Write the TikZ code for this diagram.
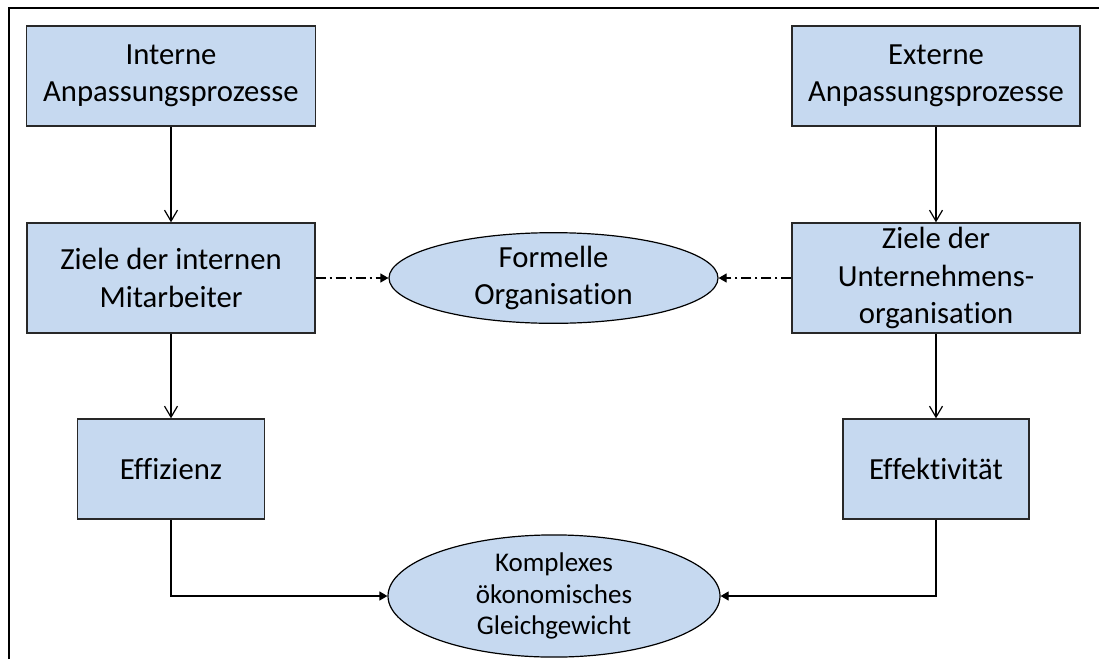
\documentclass[tikz,border=0pt]{standalone}
\usepackage{fontspec}
\setmainfont{Carlito}[Ligatures={NoCommon,NoDiscretionary,NoContextual}]
\usetikzlibrary{arrows.meta,shapes.geometric}
\definecolor{boxfill}{RGB}{198,217,240}
\definecolor{boxline}{RGB}{40,40,40}
\tikzset{
  box/.style={draw=boxline, line width=1.4pt, fill=boxfill, inner sep=0pt, align=center,
    font=\fontsize{30.7pt}{37.5pt}\selectfont},
  oval/.style={ellipse, draw=black, line width=1.2pt, fill=boxfill, inner sep=0pt, align=center,
    font=\fontsize{30.7pt}{37.5pt}\selectfont},
  flow/.style={line width=1.2pt, -{Straight Barb[length=11pt,width=13pt,line width=1.2pt]}},
  feed/.style={line width=1.2pt, -{Triangle[length=8pt,width=9pt]}},
  dashdotline/.style={line width=1.2pt, dash pattern=on 10pt off 4pt on 2pt off 4pt, -{Triangle[length=8pt,width=9pt]}},
  frameline/.style={line width=2.2pt, black}
}
\begin{document}
\begin{tikzpicture}[x=1pt,y=-1pt]
\useasboundingbox (0,0) rectangle (1099,659);
\fill[white] (0,0) rectangle (1099,659);
\draw[frameline] (9,659) -- (9,8) -- (1099,8);

\node[box, minimum width=289pt, minimum height=100pt] (intern) at (171,76) {Interne\\Anpassungsprozesse};
\node[box, minimum width=288pt, minimum height=110pt] (zielint) at (171,278) {Ziele der internen\\Mitarbeiter};
\node[box, minimum width=187pt, minimum height=100pt] (effiz) at (171,469) {Effizienz};

\node[box, minimum width=288pt, minimum height=100pt] (extern) at (936,76) {Externe\\Anpassungsprozesse};
\node[box, minimum width=288pt, minimum height=110pt] (zielorg) at (936,278) {Ziele der\\Unternehmens-\\organisation};
\node[box, minimum width=186pt, minimum height=100pt] (effekt) at (936,469) {Effektivität};

\node[oval, minimum width=329pt, minimum height=88pt] (formell) at (553.5,278) {Formelle\\Organisation};
\node[oval, minimum width=332pt, minimum height=102pt, font=\fontsize{27pt}{31.5pt}\selectfont] (gleich) at (554,596) {Komplexes\\ökonomisches\\Gleichgewicht};

\draw[flow] (intern) -- (zielint);
\draw[flow] (zielint) -- (effiz);
\draw[flow] (extern) -- (zielorg);
\draw[flow] (zielorg) -- (effekt);

\draw[dashdotline] (zielint.east) -- (formell.west);
\draw[dashdotline] (zielorg.west) -- (formell.east);

\draw[feed] (effiz.south) |- (gleich.west);
\draw[feed] (effekt.south) |- (gleich.east);
\end{tikzpicture}
\end{document}
